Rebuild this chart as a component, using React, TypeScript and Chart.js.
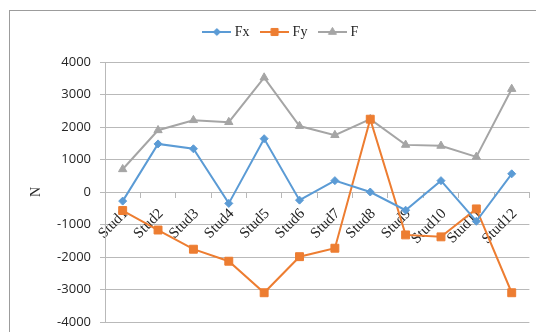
import React, { useEffect, useRef } from "react";
import { Chart, registerables } from "chart.js";
import { drawPoint } from "chart.js/helpers";

Chart.register(...registerables);

// Stud positions along the connection
const categories = [
  "Stud1", "Stud2", "Stud3", "Stud4", "Stud5", "Stud6",
  "Stud7", "Stud8", "Stud9", "Stud10", "Stud11", "Stud12",
];

// Force components per stud, in N
const fxValues = [-280, 1480, 1330, -350, 1640, -250, 350, 0, -560, 350, -900, 560];
const fyValues = [-570, -1170, -1760, -2130, -3100, -1990, -1730, 2240, -1320, -1380, -520, -3100];
const fValues = [700, 1900, 2210, 2150, 3520, 2030, 1750, 2240, 1450, 1420, 1080, 3170];

const seriesNames = ["Fx", "Fy", "F"];

// Value axis range
const yMin = -4000;
const yMax = 4000;
const yStep = 1000;
const yTitle = "N";

const BLUE = "#5B9BD5";
const ORANGE = "#ED7D31";
const GREY = "#A5A5A5";
const GRID = "#B9B9B9";
const TEXT = "#262626";

const SERIF = "'Liberation Serif', 'Times New Roman', serif";
const SANS = "'Open Sans', 'Liberation Sans', sans-serif";

// Legend swatch: a short line segment with the series marker in the middle
function makeSwatch(color: string, pointStyle: string, radius: number) {
  const c = document.createElement("canvas");
  c.width = 29;
  c.height = 12;
  const g = c.getContext("2d")!;
  g.strokeStyle = color;
  g.fillStyle = color;
  g.lineWidth = 2;
  g.beginPath();
  g.moveTo(0, 6);
  g.lineTo(29, 6);
  g.stroke();
  g.lineWidth = 1;
  drawPoint(g, { pointStyle, radius, borderWidth: 1, rotation: 0 } as any, 14.5, 6);
  return c;
}

export default function App() {
  const canvasRef = useRef<HTMLCanvasElement | null>(null);

  useEffect(() => {
    const canvas = canvasRef.current;
    if (!canvas) return;

    const swatches = [
      makeSwatch(BLUE, "rectRot", 3.6),
      makeSwatch(ORANGE, "rect", 5),
      makeSwatch(GREY, "triangle", 4.6),
    ];

    const chart = new Chart(canvas, {
      type: "line",
      data: {
        labels: categories,
        datasets: [
          {
            label: seriesNames[0],
            data: fxValues,
            borderColor: BLUE,
            backgroundColor: BLUE,
            borderWidth: 2,
            pointStyle: "rectRot",
            pointRadius: 4,
            pointBorderWidth: 1,
            tension: 0,
          },
          {
            label: seriesNames[1],
            data: fyValues,
            borderColor: ORANGE,
            backgroundColor: ORANGE,
            borderWidth: 2,
            pointStyle: "rect",
            pointRadius: 5.6,
            pointBorderWidth: 1,
            tension: 0,
          },
          {
            label: seriesNames[2],
            data: fValues,
            borderColor: GREY,
            backgroundColor: GREY,
            borderWidth: 2,
            pointStyle: "triangle",
            pointRadius: 4.8,
            pointBorderWidth: 1,
            tension: 0,
          },
        ],
      },
      options: {
        responsive: false,
        animation: false,
        events: [],
        layout: { padding: { left: 31, right: 3, top: 11, bottom: 10 } },
        scales: {
          x: {
            type: "category",
            position: { y: 0 } as any,
            offset: true,
            grid: {
              offset: true,
              drawOnChartArea: false,
              drawTicks: true,
              tickLength: 5,
              color: GRID,
            },
            border: { display: true, color: GRID, width: 1 },
            ticks: {
              autoSkip: false,
              minRotation: 45,
              maxRotation: 45,
              padding: 8,
              labelOffset: 3,
              color: TEXT,
              font: { family: SERIF, size: 15 },
            },
          },
          y: {
            min: yMin,
            max: yMax,
            afterFit: (scale: any) => {
              // fixed axis band; the end labels fit inside the layout padding
              scale.width = 74;
              scale.paddingTop = 0;
              scale.paddingBottom = 0;
            },
            ticks: {
              stepSize: yStep,
              padding: 9,
              color: TEXT,
              font: { family: SANS, size: 13 },
              callback: (v: any) => String(v),
            },
            grid: { color: GRID, lineWidth: 1, tickLength: 5, drawTicks: true },
            border: { display: true, color: GRID, width: 1 },
            title: {
              display: true,
              text: yTitle,
              color: TEXT,
              font: { family: SERIF, size: 14 },
              padding: { top: -3.4, bottom: 0 },
            },
          },
        },
        plugins: {
          tooltip: { enabled: false },
          legend: {
            position: "top",
            align: "center",
            labels: {
              usePointStyle: true,
              pointStyleWidth: 22,
              padding: 14,
              color: TEXT,
              font: { family: SERIF, size: 14 },
              generateLabels: (c: any) =>
                c.data.datasets.map((ds: any, i: number) => ({
                  text: ds.label,
                  pointStyle: swatches[i],
                  fillStyle: ds.borderColor,
                  strokeStyle: ds.borderColor,
                  lineWidth: 0,
                  hidden: false,
                  datasetIndex: i,
                  fontColor: TEXT,
                })),
            },
          },
          // empty spacer between the legend and the plot
          title: {
            display: true,
            text: "",
            position: "top",
            weight: 500,
            padding: { top: 12, bottom: 0 },
            font: { size: 1, lineHeight: 1 },
          } as any,
        },
      },
    });

    return () => chart.destroy();
  }, []);

  return (
    <div
      style={{
        position: "fixed",
        left: 0,
        top: 0,
        width: 536,
        height: 332,
        background: "#ffffff",
        overflow: "hidden",
      }}
    >
      <div
        style={{
          position: "absolute",
          left: 9,
          top: 10,
          right: -20,
          bottom: -20,
          borderLeft: "1px solid #9c9c9c",
          borderTop: "1px solid #9c9c9c",
        }}
      />
      <canvas
        ref={canvasRef}
        width={536}
        height={332}
        style={{ position: "absolute", left: 0, top: 0, width: 536, height: 332 }}
      />
    </div>
  );
}
